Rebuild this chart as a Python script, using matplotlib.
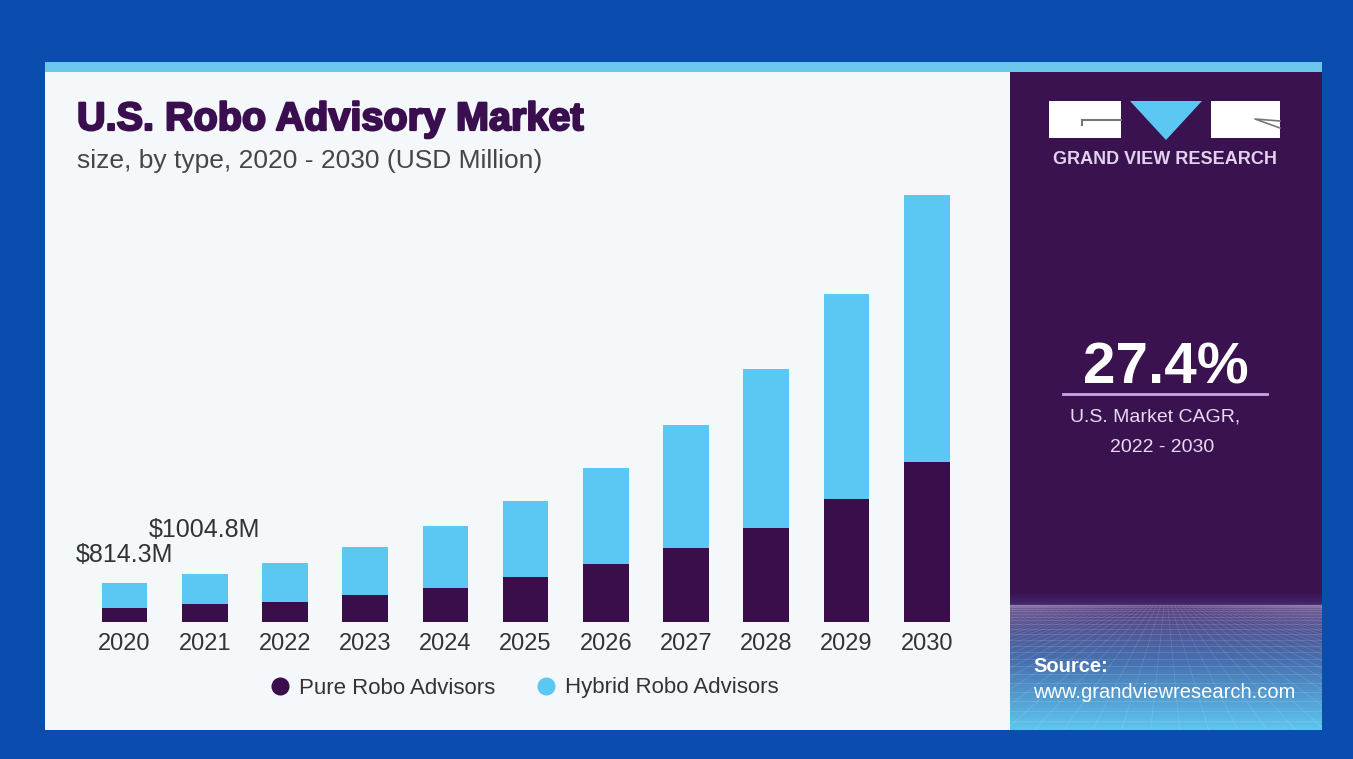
import numpy as np
import matplotlib.pyplot as plt
import matplotlib.patheffects as pe
from matplotlib.patches import Rectangle, Polygon
from matplotlib.lines import Line2D
from matplotlib.colors import LinearSegmentedColormap

plt.rcParams['font.family'] = ['Liberation Sans', 'DejaVu Sans']

# market size by type, USD million
years = ['2020', '2021', '2022', '2023', '2024', '2025',
         '2026', '2027', '2028', '2029', '2030']
pure = [293.0, 371.0, 413.0, 566.0, 719.0, 936.0,
        1209.0, 1544.0, 1976.0, 2577.0, 3358.0]
hybrid = [521.3, 633.8, 829.0, 1012.0, 1292.0, 1605.0,
          2011.0, 2583.0, 3324.0, 4288.0, 5588.0]
series_names = ['Pure Robo Advisors', 'Hybrid Robo Advisors']
labelled_years = ['2020', '2021']
cagr_value = '27.4%'
cagr_text = ['U.S. Market CAGR,', '2022 - 2030']

BORDER = '#0A4DAE'
STRIP = '#6CC7EC'
PANEL = '#F4F8FB'
PURPLE = '#3A1250'
DARK = '#3A0E4B'
LIGHT = '#5BC8F3'
TEXT = '#333333'

W, H = 1353, 759
fig = plt.figure(figsize=(W / 100, H / 100), dpi=100, facecolor=BORDER)

# background layer in pixel units
bg = fig.add_axes([0, 0, 1, 1], zorder=0)
bg.set_xlim(0, W)
bg.set_ylim(H, 0)
bg.axis('off')

bg.add_patch(Rectangle((45, 62), 1277, 11, color=STRIP, lw=0))
bg.add_patch(Rectangle((45, 72), 965, 658, color=PANEL, lw=0))
bg.add_patch(Rectangle((1010, 72), 312, 658, color=PURPLE, lw=0))

# gradient floor with perspective grid in the side panel
cmap = LinearSegmentedColormap.from_list(
    'floor', [(0, PURPLE), (0.08, '#43256A'), (0.1, '#5A4282'),
              (0.5, '#4670B0'), (1, '#5EC6F0')])
grad = np.linspace(0, 1, 300).reshape(-1, 1)
bg.imshow(grad, cmap=cmap, aspect='auto', extent=(1010, 1322, 730, 592), zorder=1)
clip = Rectangle((1010, 605), 312, 125, transform=bg.transData)
for k in range(24):
    y = 605 + 0.24 * k ** 2
    ln, = bg.plot([1010, 1322], [y, y], color='white', alpha=0.14, lw=0.6, zorder=2)
    ln.set_clip_path(clip)
for xb in np.linspace(-400, 2730, 90):
    ln, = bg.plot([1166 + (xb - 1166) * 0.1, xb], [605, 760],
                  color='white', alpha=0.12, lw=0.6, zorder=2)
    ln.set_clip_path(clip)

# logo
bg.add_patch(Rectangle((1049, 101), 72, 37, color='white', lw=0, zorder=3))
bg.add_patch(Rectangle((1211, 101), 69, 37, color='white', lw=0, zorder=3))
bg.add_patch(Polygon([(1130, 101), (1202, 101), (1166, 140)], color=LIGHT, lw=0, zorder=3))
bg.plot([1082, 1121], [120, 120], color='#777777', lw=1.5, zorder=4)
bg.plot([1082, 1082], [120, 125], color='#777777', lw=1.5, zorder=4)
bg.plot([1280, 1255, 1280], [128, 119, 121], color='#777777', lw=1.2, zorder=4)
bg.text(1165, 159, 'GRAND VIEW RESEARCH', ha='center', va='center',
        fontsize=13, fontweight='bold', color='#E2D2EE', zorder=4)

# CAGR block
bg.text(1166, 383, cagr_value, ha='center', va='baseline', fontsize=42,
        fontweight='bold', color='white', zorder=4)
bg.plot([1063, 1267], [394, 394], color='#C9A6E6', lw=2, zorder=4)
bg.text(1155, 417, cagr_text[0], ha='center', va='center', fontsize=14,
        color='#E8DAF2', zorder=4)
bg.text(1162, 447, cagr_text[1], ha='center', va='center', fontsize=14,
        color='#E8DAF2', zorder=4)

bg.text(1033, 667, 'Source:', ha='left', va='center', fontsize=14.5,
        fontweight='bold', color='white', zorder=4)
bg.text(1033, 692, 'www.grandviewresearch.com', ha='left', va='center',
        fontsize=14.5, color='white', zorder=4)

# headings
bg.text(77, 130, 'U.S. Robo Advisory Market', ha='left', va='baseline',
        fontsize=28.5, fontweight='bold', color='#3B0F4F',
        path_effects=[pe.withStroke(linewidth=1.6, foreground='#3B0F4F')])
bg.text(77, 168, 'size, by type, 2020 - 2030 (USD Million)', ha='left',
        va='baseline', fontsize=19, color='#464646')

# stacked bars
ax = fig.add_axes([84.4 / W, 1 - 622 / H, 882.4 / W, 442 / H], zorder=5)
ax.patch.set_alpha(0)
x = np.arange(len(years))
ax.bar(x, pure, width=0.57, color=DARK, lw=0)
ax.bar(x, hybrid, bottom=pure, width=0.57, color=LIGHT, lw=0)
ax.set_xlim(-0.5, len(years) - 0.5)
ax.set_ylim(0, 9260)
ax.set_xticks(x)
ax.set_xticklabels(years, fontsize=17, color=TEXT)
ax.tick_params(axis='x', length=0, pad=8)
ax.set_yticks([])
for s in ax.spines.values():
    s.set_visible(False)

totals = [p + h for p, h in zip(pure, hybrid)]
for yr, off in zip(labelled_years, [20, 32]):
    i = years.index(yr)
    ax.annotate(f'${totals[i]:.1f}M', (i, totals[i]), xytext=(0, off),
                textcoords='offset points', ha='center', va='center',
                fontsize=18, color=TEXT)

handles = [Line2D([], [], marker='o', ls='none', markersize=12, color=c)
           for c in (DARK, LIGHT)]
fig.legend(handles, series_names, loc='center', bbox_to_anchor=(525 / W, 1 - 688 / H),
           ncol=2, frameon=False, fontsize=16, labelcolor=TEXT, handlelength=0.8,
           handletextpad=0.45, columnspacing=1.9)

fig.savefig('out.png', dpi=100, facecolor=BORDER)
